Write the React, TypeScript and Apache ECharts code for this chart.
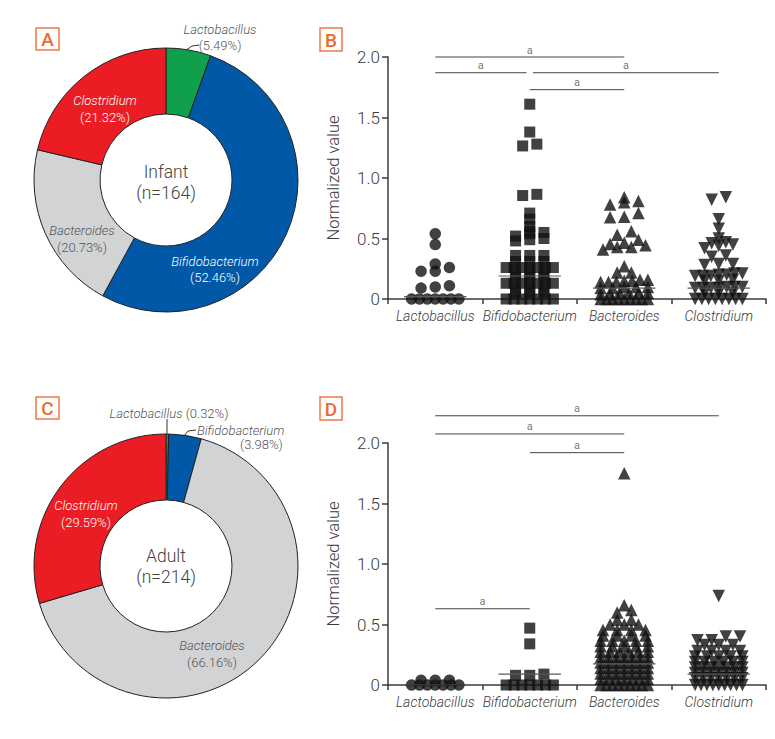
import React, { useEffect, useRef } from "react";
import * as echarts from "echarts";

// ---------- data ----------
const taxa = ["Lactobacillus", "Bifidobacterium", "Bacteroides", "Clostridium"];
const infantPct = [5.49, 52.46, 20.73, 21.32];
const adultPct = [0.32, 3.98, 66.16, 29.59];
const infantN = 164;
const adultN = 214;

const infantLacto = [0.54, 0.45, 0.29, 0.26, 0.23, 0.23, 0.11, 0.1, 0.09, 0, 0, 0, 0, 0, 0, 0];
const infantBifido = [
  1.61, 1.38, 1.28, 1.265, 0.865, 0.855, 0.71, 0.66, 0.6, 0.56, 0.55, 0.54, 0.52, 0.5, 0.49, 0.48,
  0.36, 0.36, 0.36, 0.31, 0.31, 0.31, 0.26, 0.26, 0.26, 0.26, 0.26, 0.26, 0.26, 0.22, 0.22, 0.22,
  0.18, 0.18, 0.18, 0.13, 0.13, 0.13, 0.13, 0.13, 0.13, 0.13, 0.09, 0.09, 0.09, 0.05, 0.05, 0.05,
  0, 0, 0, 0, 0, 0, 0,
];
const infantBact = [
  0.84, 0.81, 0.8, 0.78, 0.71, 0.68, 0.675, 0.56, 0.53, 0.49, 0.465, 0.455, 0.445, 0.43, 0.43, 0.41,
  0.27, 0.22, 0.22, 0.16, 0.16, 0.15, 0.15, 0.14, 0.14, 0.14, 0.1, 0.1, 0.1, 0.09, 0.09,
  0.05, 0.05, 0.05, 0.05, 0.04, 0.04, 0, 0, 0, 0, 0, 0, 0, 0, 0,
];
const infantClos = [
  0.84, 0.82, 0.66, 0.58, 0.5, 0.47, 0.46, 0.45, 0.44, 0.42, 0.36, 0.35, 0.29, 0.29, 0.28,
  0.21, 0.21, 0.2, 0.2, 0.19, 0.19, 0.19, 0.16, 0.15, 0.15, 0.1, 0.1, 0.1, 0.09, 0.09, 0.09, 0.09,
  0.05, 0.05, 0.05, 0, 0, 0, 0, 0, 0, 0, 0,
];

const adultLacto = [0.04, 0.04, 0.04, 0, 0, 0, 0, 0, 0, 0];
const adultBifido = [0.47, 0.34, 0.09, 0.08, 0.08, 0, 0, 0, 0, 0, 0, 0];
const adultBact = [
  1.75, 0.66, 0.62, 0.6, 0.54, 0.54, 0.5, 0.5, 0.5, 0.455, 0.455, 0.455, 0.455,
  0.41, 0.41, 0.41, 0.41, 0.365, 0.365, 0.365, 0.365, 0.365,
  0.32, 0.32, 0.32, 0.32, 0.32, 0.275, 0.275, 0.275, 0.275, 0.275, 0.275,
  0.23, 0.23, 0.23, 0.23, 0.23, 0.23, 0.23, 0.185, 0.185, 0.185, 0.185, 0.185, 0.185, 0.185,
  0.14, 0.14, 0.14, 0.14, 0.14, 0.14, 0.14, 0.095, 0.095, 0.095, 0.095, 0.095, 0.095, 0.095,
  0.05, 0.05, 0.05, 0.05, 0.05, 0.05, 0.05, 0, 0, 0, 0, 0, 0, 0, 0, 0,
];
const adultClos = [
  0.735, 0.4, 0.4, 0.37, 0.37, 0.33, 0.33, 0.33, 0.28, 0.28, 0.28, 0.28,
  0.235, 0.235, 0.235, 0.235, 0.235, 0.19, 0.19, 0.19, 0.19, 0.19, 0.19,
  0.145, 0.145, 0.145, 0.145, 0.145, 0.145, 0.145, 0.1, 0.1, 0.1, 0.1, 0.1, 0.1, 0.1,
  0.055, 0.055, 0.055, 0.055, 0.055, 0.055, 0.055, 0, 0, 0, 0, 0, 0, 0, 0, 0,
];

const infantMedian = [0.02, 0.19, 0.09, 0.09];
const adultMedian = [0, 0.09, 0.175, 0.09];

// significance comparisons: [groupA, groupB, bar height]
const infantSig = [
  [0, 2, 2.0],
  [0, 1, 1.87],
  [1, 3, 1.87],
  [1, 2, 1.73],
];
const adultSig = [
  [0, 3, 2.225],
  [0, 2, 2.075],
  [1, 2, 1.92],
  [0, 1, 0.63],
];
const sigMark = "a";
const yTickValues = [0, 0.5, 1.0, 1.5, 2.0];

// ---------- styles ----------
const FONT = "Roboto, 'Liberation Sans', sans-serif";
const pieColors = ["#10a04c", "#0058a7", "#d1d3d5", "#ec1c24"];
const AXIS = "#3c3c3c";
const TEXT = "#3a3a3a";
const ORANGE = "#ef7a45";
const symbols = [
  { symbol: "circle", size: 11.5, rotate: 0 },
  { symbol: "rect", size: 11, rotate: 0 },
  { symbol: "triangle", size: 12.5, rotate: 0 },
  { symbol: "triangle", size: 12.5, rotate: 180 },
];

// Prism-like dot arrangement: points of similar value share a row
function swarm(values: number[], center: number) {
  const BIN = 0.036;
  const STEP = 0.15;
  const HALF = 0.25;
  const sorted = [...values].sort((a, b) => a - b);
  const out: number[][] = [];
  let i = 0;
  while (i < sorted.length) {
    const start = sorted[i];
    let j = i;
    while (j < sorted.length && sorted[j] - start < BIN - 1e-9) j++;
    const n = j - i;
    const s = n > 1 ? Math.min(STEP, (2 * HALF) / (n - 1)) : 0;
    for (let k = 0; k < n; k++) out.push([center + (k - (n - 1) / 2) * s, sorted[i + k]]);
    i = j;
  }
  return out;
}

function buildOption() {
  const panels = [
    { values: [infantLacto, infantBifido, infantBact, infantClos], median: infantMedian, sig: infantSig },
    { values: [adultLacto, adultBifido, adultBact, adultClos], median: adultMedian, sig: adultSig },
  ];

  const grid = [
    { left: 388, top: 57, width: 378, height: 242 },
    { left: 388, top: 443, width: 378, height: 242 },
  ];
  const xAxis: any[] = [];
  const yAxis: any[] = [];
  const series: any[] = [];

  panels.forEach((p, pi) => {
    xAxis.push({
      type: "category",
      gridIndex: pi,
      data: taxa,
      boundaryGap: true,
      axisLine: { lineStyle: { color: AXIS, width: 1.5 } },
      axisTick: { show: true, length: 5, lineStyle: { color: AXIS, width: 1.5 } },
      axisLabel: {
        interval: 0,
        fontFamily: FONT,
        fontStyle: "italic",
        fontWeight: 300,
        fontSize: 14,
        color: TEXT,
        margin: 10,
      },
      splitLine: { show: false },
    });
    xAxis.push({ type: "value", gridIndex: pi, min: 0, max: 4, show: false });
    yAxis.push({
      type: "value",
      gridIndex: pi,
      min: yTickValues[0],
      max: yTickValues[yTickValues.length - 1],
      interval: 0.5,
      axisLine: { show: true, lineStyle: { color: AXIS, width: 1.5 } },
      axisTick: { show: true, length: 6, lineStyle: { color: AXIS, width: 1.5 } },
      splitLine: { show: false },
      axisLabel: {
        formatter: (v: number) => (v === 0 ? "0" : v.toFixed(1)),
        fontFamily: FONT,
        fontWeight: 300,
        fontSize: 17,
        color: TEXT,
        margin: 8,
      },
      name: "Normalized value",
      nameLocation: "middle",
      nameGap: 46,
      nameRotate: 90,
      nameTextStyle: { fontFamily: FONT, fontWeight: 300, fontSize: 16.5, color: TEXT },
    });

    const xi = pi * 2 + 1;
    p.values.forEach((vals, g) => {
      const sym = symbols[g];
      series.push({
        type: "scatter",
        xAxisIndex: xi,
        yAxisIndex: pi,
        data: swarm(vals, g + 0.5),
        symbol: sym.symbol,
        symbolSize: sym.size,
        symbolRotate: sym.rotate,
        itemStyle: { color: "#111" },
        silent: true,
        clip: false,
        z: 2,
      });
      series.push({
        type: "line",
        xAxisIndex: xi,
        yAxisIndex: pi,
        data: [
          [g + 0.5 - 0.33, p.median[g]],
          [g + 0.5 + 0.33, p.median[g]],
        ],
        symbol: "none",
        lineStyle: { color: "#5a5a5a", width: 1.2 },
        silent: true,
        z: 3,
      });
    });

    p.sig.forEach(([a, b, h]) => {
      const trimStart = p.sig.some((o) => o[2] === h && o[1] === a);
      const trimEnd = p.sig.some((o) => o[2] === h && o[0] === b);
      const x1 = a + 0.5 + (trimStart ? 0.035 : 0);
      const x2 = b + 0.5 - (trimEnd ? 0.035 : 0);
      series.push({
        type: "line",
        xAxisIndex: xi,
        yAxisIndex: pi,
        data: [
          [x1, h],
          [x2, h],
        ],
        symbol: "none",
        lineStyle: { color: "#444", width: 1 },
        silent: true,
        clip: false,
        z: 3,
      });
      series.push({
        type: "scatter",
        xAxisIndex: xi,
        yAxisIndex: pi,
        data: [[(x1 + x2) / 2, h]],
        symbolSize: 1,
        itemStyle: { color: "rgba(0,0,0,0)" },
        label: {
          show: true,
          formatter: sigMark,
          position: "top",
          distance: 1,
          fontFamily: FONT,
          fontSize: 11,
          color: "#555",
        },
        silent: true,
        clip: false,
        z: 3,
      });
    });
  });

  const pieBase = {
    type: "pie",
    radius: [66, 132],
    startAngle: 90,
    clockwise: true,
    label: { show: false },
    labelLine: { show: false },
    silent: true,
    itemStyle: { borderColor: "#222", borderWidth: 1 },
  };
  series.push({
    ...pieBase,
    center: [166, 180],
    data: taxa.map((n, i) => ({ name: n, value: infantPct[i], itemStyle: { color: pieColors[i] } })),
  });
  series.push({
    ...pieBase,
    center: [166, 566],
    data: taxa.map((n, i) => ({ name: n, value: adultPct[i], itemStyle: { color: pieColors[i] } })),
  });

  // ---------- annotations ----------
  const graphic: any[] = [];
  const txt = (x: number, y: number, text: string, o: any = {}) =>
    graphic.push({
      type: "text",
      x,
      y,
      z: 100,
      style: {
        text,
        fill: o.fill || "#555",
        fontFamily: FONT,
        fontWeight: o.weight || 300,
        fontStyle: o.italic ? "italic" : "normal",
        fontSize: o.size || 13,
        align: o.align || "center",
        verticalAlign: "middle",
      },
    });
  const pct = (v: number) => `(${v.toFixed(2)}%)`;

  const box = (x: number, y: number, w: number, h: number, letter: string) => {
    graphic.push({
      type: "rect",
      z: 100,
      shape: { x, y, width: w, height: h },
      style: { fill: "#fff", stroke: ORANGE, lineWidth: 1.5 },
    });
    txt(x + w / 2, y + h / 2 + 0.5, letter, { fill: "#ec6a2e", size: 19, weight: 500 });
  };
  box(36, 28, 23, 22, "A");
  box(320, 28, 22, 23, "B");
  box(36, 397, 23, 22, "C");
  box(320, 397, 22, 23, "D");

  // center texts
  txt(166, 172, "Infant", { size: 17.5, fill: "#444" });
  txt(166, 193, `(n=${infantN})`, { size: 17.5, fill: "#444" });
  txt(166, 556, "Adult", { size: 17.5, fill: "#444" });
  txt(166, 577, `(n=${adultN})`, { size: 17.5, fill: "#444" });

  // infant slice labels
  txt(220, 29, taxa[0], { italic: true });
  txt(220, 45, pct(infantPct[0]));
  txt(215, 261, taxa[1], { italic: true, fill: "#fff" });
  txt(215, 277, pct(infantPct[1]), { fill: "#fff" });
  txt(82, 230, taxa[2], { italic: true });
  txt(82, 247, pct(infantPct[2]));
  txt(105, 100, taxa[3], { italic: true, fill: "#fff" });
  txt(105, 117, pct(infantPct[3]), { fill: "#fff" });
  graphic.push({
    type: "polyline",
    z: 100,
    shape: { points: [[187, 49.5], [192, 46], [199, 45]] },
    style: { stroke: "#333", lineWidth: 1, fill: "none" },
  });

  // adult slice labels
  const richBase = { fontFamily: FONT, fontWeight: 300, fontSize: 13, fill: "#555" };
  graphic.push({
    type: "text",
    x: 169,
    y: 413,
    z: 100,
    style: {
      text: `{n|${taxa[0]}} {p|${pct(adultPct[0])}}`,
      align: "center",
      verticalAlign: "middle",
      ...richBase,
      rich: {
        n: { ...richBase, fontStyle: "italic" },
        p: { ...richBase },
      },
    },
  });
  graphic.push({
    type: "line",
    z: 100,
    shape: { x1: 167, y1: 419, x2: 167, y2: 434 },
    style: { stroke: "#333", lineWidth: 1 },
  });
  txt(197, 430, taxa[1], { italic: true, align: "left" });
  txt(240, 444, pct(adultPct[1]), { align: "left" });
  graphic.push({
    type: "polyline",
    z: 100,
    shape: { points: [[184, 436], [188, 431], [196, 430]] },
    style: { stroke: "#333", lineWidth: 1, fill: "none" },
  });
  txt(212, 645, taxa[2], { italic: true });
  txt(212, 662, pct(adultPct[2]));
  txt(86, 505, taxa[3], { italic: true, fill: "#fff" });
  txt(86, 522, pct(adultPct[3]), { fill: "#fff" });

  return {
    animation: false,
    backgroundColor: "#fff",
    grid,
    xAxis,
    yAxis,
    series,
    graphic,
  };
}

export default function App() {
  const ref = useRef<HTMLDivElement>(null);
  useEffect(() => {
    const chart = echarts.init(ref.current!, null, { renderer: "svg" });
    chart.setOption(buildOption() as any);
    return () => chart.dispose();
  }, []);
  return (
    <div
      ref={ref}
      style={{ position: "absolute", left: 0, top: 0, width: 775, height: 739, background: "#fff" }}
    />
  );
}
